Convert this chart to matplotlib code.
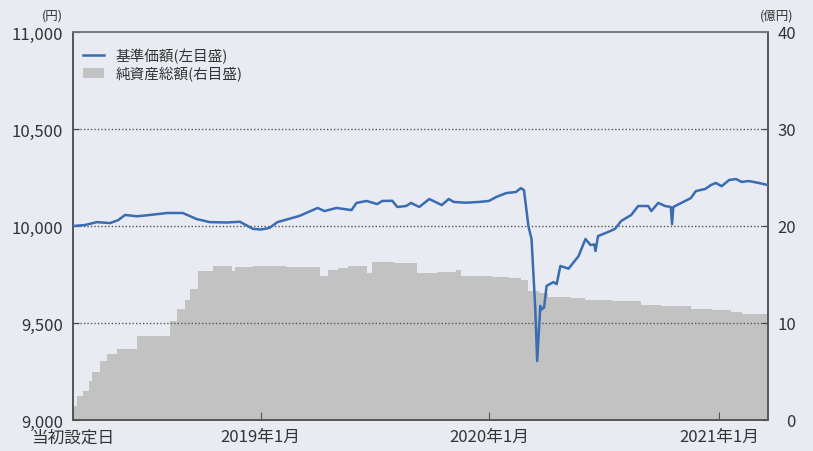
import matplotlib
matplotlib.use("Agg")
import matplotlib.pyplot as plt
from matplotlib.lines import Line2D
from matplotlib.patches import Patch
import pandas as pd

plt.rcParams['font.family'] = ['Noto Sans CJK JP', 'DejaVu Sans']

# ---- data ----
nav_dates = [
    "2018-03-08", "2018-03-27", "2018-04-15", "2018-05-06", "2018-05-19", "2018-05-30",
    "2018-06-18", "2018-07-09", "2018-08-05", "2018-08-30", "2018-09-21", "2018-10-12",
    "2018-11-08", "2018-11-29", "2018-12-20", "2019-01-02", "2019-01-15", "2019-01-28",
    "2019-03-04", "2019-04-02", "2019-04-13", "2019-05-02", "2019-05-26", "2019-06-03",
    "2019-06-19", "2019-07-06", "2019-07-14", "2019-07-30", "2019-08-07", "2019-08-21",
    "2019-08-29", "2019-09-11", "2019-09-27", "2019-10-17", "2019-10-28", "2019-11-05",
    "2019-11-24", "2019-12-15", "2019-12-31", "2020-01-12", "2020-01-28", "2020-02-12",
    "2020-02-20", "2020-02-25", "2020-03-03", "2020-03-08", "2020-03-14", "2020-03-17",
    "2020-03-22", "2020-03-24", "2020-03-28", "2020-04-01", "2020-04-12", "2020-04-17",
    "2020-04-23", "2020-05-06", "2020-05-22", "2020-06-02", "2020-06-10", "2020-06-16",
    "2020-06-18", "2020-06-22", "2020-07-08", "2020-07-19", "2020-07-29", "2020-08-14",
    "2020-08-25", "2020-09-10", "2020-09-15", "2020-09-26", "2020-10-07", "2020-10-16",
    "2020-10-18", "2020-10-20", "2020-11-08", "2020-11-17", "2020-11-25", "2020-12-10",
    "2020-12-19", "2020-12-27", "2021-01-05", "2021-01-17", "2021-01-28", "2021-02-06",
    "2021-02-17", "2021-03-05", "2021-03-20",
]
nav_values = [
    10000, 10005, 10020, 10015, 10030, 10057,
    10050, 10057, 10067, 10067, 10036, 10020,
    10018, 10022, 9985, 9982, 9990, 10020,
    10052, 10093, 10077, 10093, 10082, 10119,
    10129, 10113, 10129, 10130, 10098, 10103,
    10119, 10098, 10139, 10108, 10139, 10124,
    10120, 10124, 10129, 10150, 10170, 10175,
    10195, 10185, 10000, 9933, 9572, 9304,
    9588, 9570, 9580, 9691, 9711, 9700,
    9794, 9780, 9845, 9933, 9902, 9905,
    9871, 9948, 9969, 9985, 10026, 10057,
    10103, 10103, 10077, 10119, 10103, 10098,
    10010, 10098, 10129, 10144, 10180, 10191,
    10211, 10222, 10205, 10237, 10242, 10227,
    10232, 10222, 10211,
]

aum_dates = [
    "2018-03-08", "2018-03-14", "2018-03-24", "2018-04-02", "2018-04-07", "2018-04-20",
    "2018-05-01", "2018-05-17", "2018-06-18", "2018-08-09", "2018-08-21", "2018-09-03",
    "2018-09-10", "2018-09-23", "2018-10-17", "2018-11-16", "2018-11-21", "2018-12-20",
    "2019-02-10", "2019-04-05", "2019-04-18", "2019-05-05", "2019-05-20", "2019-06-19",
    "2019-06-27", "2019-08-01", "2019-09-08", "2019-10-10", "2019-11-08", "2019-11-16",
    "2019-12-10", "2020-01-05", "2020-02-01", "2020-02-20", "2020-03-02", "2020-03-20",
    "2020-04-03", "2020-05-10", "2020-06-02", "2020-07-15", "2020-08-30", "2020-10-01",
    "2020-11-17", "2020-12-20", "2021-01-20", "2021-02-06", "2021-03-20",
]
aum_values = [
    1.4, 2.5, 3.0, 4.0, 4.9, 6.1,
    6.8, 7.3, 8.7, 10.2, 11.4, 12.4,
    13.5, 15.4, 15.9, 15.4, 15.8, 15.9,
    15.8, 14.8, 15.5, 15.7, 15.9, 15.2,
    16.3, 16.2, 15.2, 15.3, 15.5, 14.8,
    14.8, 14.7, 14.6, 14.4, 13.3, 13.1,
    12.7, 12.6, 12.4, 12.3, 11.9, 11.8,
    11.4, 11.3, 11.1, 10.9, 10.9,
]

x_tick_dates = ["2018-03-08", "2019-01-01", "2020-01-01", "2021-01-01"]
x_tick_labels = ["当初設定日", "2019年1月", "2020年1月", "2021年1月"]
left_ticks = [9000, 9500, 10000, 10500, 11000]
left_labels = ["9,000", "9,500", "10,000", "10,500", "11,000"]
right_ticks = [0, 10, 20, 30, 40]
legend_labels = ["基準価額(左目盛)", "純資産総額(右目盛)"]

# ---- styling ----
bg = "#e9ebf3"
line_color = "#3a6cb2"
area_color = "#c2c2c2"
text_color = "#333333"
spine_color = "#555555"

nd = pd.to_datetime(nav_dates)
ad = pd.to_datetime(aum_dates)
xt = pd.to_datetime(x_tick_dates)

fig = plt.figure(figsize=(8.13, 4.52), dpi=100, facecolor=bg)
ax1 = fig.add_axes([73/813, 1-421/452, (768-73)/813, (421-33)/452])
ax2 = ax1.twinx()

ax2.set_facecolor("white")
ax1.set_zorder(ax2.get_zorder() + 1)
ax1.patch.set_visible(False)

ax2.fill_between(ad, aum_values, 0, step="post", color=area_color, linewidth=0)
ax1.plot(nd, nav_values, color=line_color, linewidth=1.8, zorder=5)

ax1.set_xlim(pd.Timestamp("2018-03-08"), pd.Timestamp("2021-03-20"))
ax1.set_ylim(9000, 11000)
ax2.set_ylim(0, 40)

for y in [9500, 10000, 10500]:
    ax1.axhline(y, color="#555555", linestyle=(0, (1, 1.5)), linewidth=1.0, zorder=3)

ax1.set_yticks(left_ticks)
ax1.set_yticklabels(left_labels)
ax2.set_yticks(right_ticks)
ax2.set_yticklabels([str(v) for v in right_ticks])
ax1.set_xticks(xt)
ax1.set_xticklabels(x_tick_labels)

ax1.tick_params(axis="y", direction="in", length=4, pad=7, labelsize=12,
                colors=text_color, labelcolor=text_color)
ax1.tick_params(axis="x", direction="in", length=6, pad=6, labelsize=12,
                colors=spine_color, labelcolor=text_color)
ax2.tick_params(axis="y", direction="in", length=4, pad=20, labelsize=12,
                colors=text_color, labelcolor=text_color)
for lab in ax2.get_yticklabels():
    lab.set_horizontalalignment("right")

for ax in (ax1, ax2):
    for s in ("left", "bottom", "right"):
        ax.spines[s].set_color(spine_color)
        ax.spines[s].set_linewidth(1.2)
    ax.spines["top"].set_color("#7a7a7a")
    ax.spines["top"].set_linewidth(1.2)

fig.text(63/813, 1-16/452, "(円)", ha="right", va="center", fontsize=9, color=text_color)
fig.text(793/813, 1-16/452, "(億円)", ha="right", va="center", fontsize=9, color=text_color)

handles = [Line2D([0], [0], color=line_color, linewidth=1.8),
           Patch(facecolor=area_color, edgecolor="none")]
leg = ax1.legend(handles, legend_labels, loc="upper left", bbox_to_anchor=(0.0, 0.985),
                 frameon=False, fontsize=10.5, handlelength=1.4, handletextpad=0.8,
                 labelspacing=0.15, borderaxespad=0.3)
for t in leg.get_texts():
    t.set_color(text_color)

fig.savefig("out.png", dpi=100, facecolor=bg)
